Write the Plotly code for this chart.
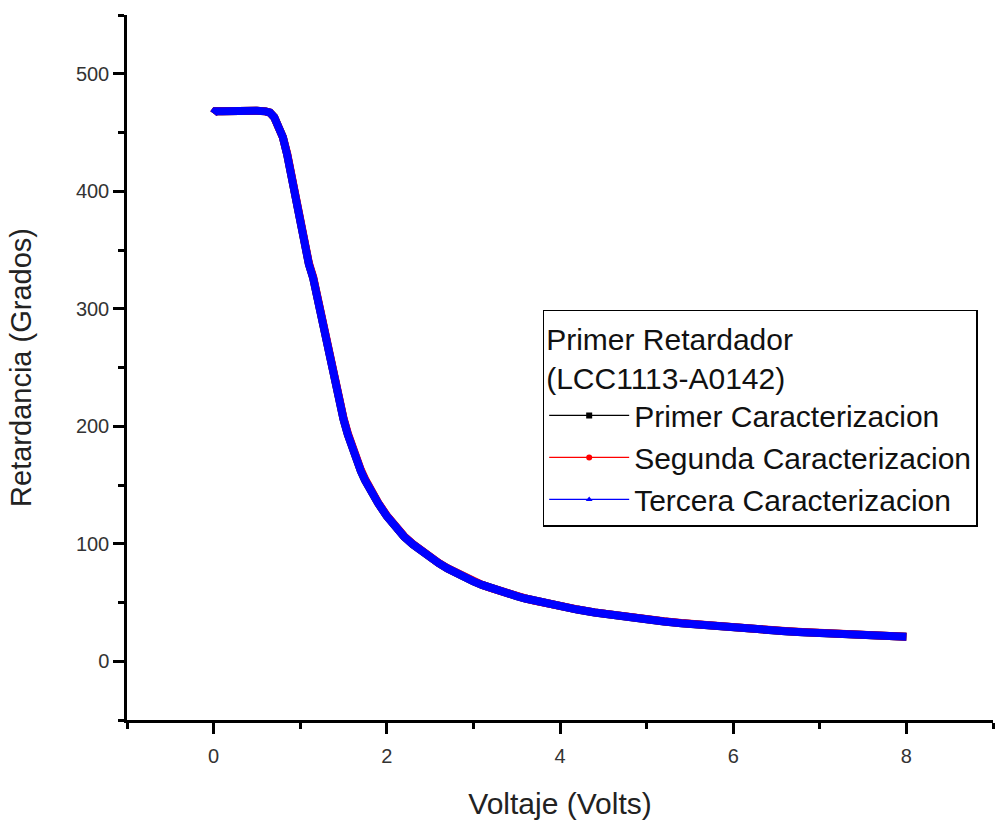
import plotly.graph_objects as go

# Voltage sweep (V) and measured retardance (degrees) for the three runs
voltaje = [0.0, 0.02, 0.1, 0.2, 0.3, 0.4, 0.5, 0.6, 0.65, 0.7, 0.75, 0.8, 0.85,
           0.9, 0.95, 1.0, 1.05, 1.1, 1.15, 1.2, 1.25, 1.3, 1.35, 1.4, 1.45,
           1.5, 1.55, 1.6, 1.65, 1.7, 1.75, 1.8, 1.9, 2.0, 2.1, 2.2, 2.3, 2.4,
           2.5, 2.6, 2.7, 2.8, 2.9, 3.0, 3.1, 3.2, 3.3, 3.4, 3.5, 3.6, 3.7,
           3.8, 3.9, 4.0, 4.2, 4.4, 4.6, 4.8, 5.0, 5.2, 5.4, 5.6, 5.8, 6.0,
           6.2, 6.4, 6.6, 6.8, 7.0, 7.2, 7.4, 7.6, 7.8, 8.0]

primer = [466, 468, 468, 468.5, 468.5, 468.5, 468.5, 468, 467, 463, 455, 446, 431,
          413, 392, 372, 352, 338, 326, 308, 291, 273, 255, 237, 221,
          206, 193, 181, 171, 162, 154, 147, 134.5, 123.5, 114, 106, 99.5, 93.5,
          88.5, 83.5, 79, 75, 71.3, 68, 65, 62.3, 59.8, 57.5, 55.4, 53.4, 51.6,
          49.9, 48.3, 46.8, 44.0, 41.5, 39.3, 37.3, 35.5, 33.9, 32.4, 31.0, 29.8, 28.6,
          27.5, 26.5, 25.6, 24.7, 23.9, 23.2, 22.5, 21.9, 21.3, 20.8]

segunda = [466, 468, 468, 468.5, 468.5, 468.5, 468.5, 468, 467, 463, 455, 446, 432,
           414, 393, 373, 353, 339, 327, 309, 292, 274, 256, 238, 222,
           207, 194, 182, 172, 163, 155, 147.5, 135, 124, 114.5, 106.5, 99.8, 93.8,
           88.7, 83.7, 79.2, 75.2, 71.5, 68.2, 65.1, 62.4, 59.9, 57.6, 55.5, 53.5, 51.7,
           50.0, 48.4, 46.9, 44.1, 41.6, 39.4, 37.4, 35.6, 34.0, 32.5, 31.1, 29.9, 28.7,
           27.6, 26.6, 25.7, 24.8, 24.0, 23.3, 22.6, 22.0, 21.4, 20.9]

tercera = [466, 468, 468, 468.5, 468.5, 468.5, 468.5, 468, 467, 463, 455, 446, 431,
           413, 392, 372, 352, 338, 326, 308, 291, 273, 255, 237, 221,
           206, 193, 181, 171, 162, 154, 147, 134.5, 123.5, 114, 106, 99.5, 93.5,
           88.5, 83.5, 79, 75, 71.3, 68, 65, 62.3, 59.8, 57.5, 55.4, 53.4, 51.6,
           49.9, 48.3, 46.8, 44.0, 41.5, 39.3, 37.3, 35.5, 33.9, 32.4, 31.0, 29.8, 28.6,
           27.5, 26.5, 25.6, 24.7, 23.9, 23.2, 22.5, 21.9, 21.3, 20.8]

series = [
    ("Primer Caracterizacion", primer, "#000000", "square"),
    ("Segunda Caracterizacion", segunda, "#ff0000", "circle"),
    ("Tercera Caracterizacion", tercera, "#0000ff", "triangle-up"),
]

FONT = "Liberation Sans, Arial, sans-serif"

fig = go.Figure()

# dense measurement curves, drawn as a thick band
for name, vals, color, sym in series:
    fig.add_trace(go.Scatter(
        x=voltaje, y=vals, mode="lines", name=name, showlegend=False,
        line=dict(color=color, width=8),
    ))

# legend entries: thin line with a small marker
for name, vals, color, sym in series:
    fig.add_trace(go.Scatter(
        x=[None], y=[None], mode="lines+markers", name=name,
        line=dict(color=color, width=1.2),
        marker=dict(color=color, symbol=sym, size=6),
    ))

axis_common = dict(
    showline=True, linecolor="black", linewidth=2.5,
    ticks="outside", ticklen=11, tickwidth=2.5, tickcolor="black",
    showgrid=False, zeroline=False, mirror=False, automargin=False,
    tickfont=dict(family=FONT, size=20, color="#333333"),
)

fig.update_layout(
    width=1005, height=823,
    margin=dict(l=127, r=12, t=15, b=103),
    paper_bgcolor="white", plot_bgcolor="white",
    font=dict(family=FONT, color="black"),
    xaxis=dict(
        range=[-1, 9], tick0=0, dtick=2,
        minor=dict(dtick=1, ticks="outside", ticklen=6, tickwidth=2.5, tickcolor="black"),
        ticklabelstandoff=5,
        title=dict(text="Voltaje (Volts)", font=dict(family=FONT, size=30, color="#222222"),
                   standoff=28),
        **axis_common,
    ),
    yaxis=dict(
        range=[-50, 550], tick0=0, dtick=100,
        minor=dict(dtick=50, ticks="outside", ticklen=6, tickwidth=2.5, tickcolor="black"),
        title=dict(text="Retardancia (Grados)", font=dict(family=FONT, size=29, color="#222222"),
                   standoff=36),
        **axis_common,
    ),
    legend=dict(
        x=0.48, y=0.5816, xanchor="left", yanchor="top",
        bgcolor="white", bordercolor="black", borderwidth=1.5,
        font=dict(family=FONT, size=30, color="#111111"),
        title=dict(text="Primer Retardador<br>(LCC1113-A0142)",
                   font=dict(family=FONT, size=30, color="#111111")),
        itemwidth=80, tracegroupgap=0, entrywidth=400,
    ),
)

fig.write_html("out.html")
